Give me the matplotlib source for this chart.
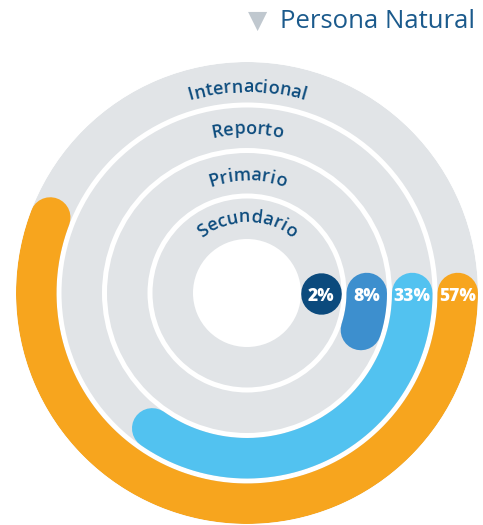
import numpy as np
import matplotlib.pyplot as plt

# Data
categories = ["Secundario", "Primario", "Reporto", "Internacional"]
shares = [2, 8, 33, 57]
labels = ["2%", "8%", "33%", "57%"]
# sweep of each drawn bar in degrees
sweep_deg = [1, 18, 125, 201]
bar_colors = ["#0b4a7d", "#3d8fce", "#52c2f0", "#f7a51e"]

title = "Persona Natural"

# Layout (pixels)
W, H = 483, 525
cx, cy = 247, 293
r_out = 231
r_in = 54
ring_w = 40.5
ring_step = 45.5
label_base = [71, 112.5, 159, 201]
gray = "#e1e4e7"
navy = "#0d4c7e"
lw_pt = ring_w * 72 / 100

fig = plt.figure(figsize=(W / 100, H / 100), dpi=100)
ax = fig.add_axes([(cx - r_out) / W, (H - cy - r_out) / H, 2 * r_out / W, 2 * r_out / H],
                  projection="polar")
ax.set_theta_zero_location("E")
ax.set_theta_direction(-1)
ax.set_rlim(0, r_out)
ax.axis("off")

renderer = fig.canvas.get_renderer()


def curved_text(text, r_base, size):
    # measure each character, then lay them out along the arc
    widths = []
    for ch in text:
        t = ax.text(0, 0, ch, fontsize=size, family="Open Sans", weight="semibold")
        widths.append(t.get_window_extent(renderer).width)
        t.remove()
    total = sum(widths)
    s = 0
    for ch, w in zip(text, widths):
        th = -np.pi / 2 + (s + w / 2 - total / 2) / r_base
        rot = -np.degrees(th) - 90
        ax.text(th, r_base, ch, fontsize=size, family="Open Sans", weight="semibold",
                color=navy, ha="center", va="baseline", rotation=rot,
                rotation_mode="anchor")
        s += w


for i, (cat, lab, sw, col) in enumerate(zip(categories, labels, sweep_deg, bar_colors)):
    inner = r_in + i * ring_step
    mid = inner + ring_w / 2
    ax.bar(0, ring_w, width=2 * np.pi, bottom=inner, color=gray, linewidth=0)
    theta = np.linspace(0, np.radians(sw), 300)
    ax.plot(theta, np.full_like(theta, mid), color=col, lw=lw_pt,
            solid_capstyle="round")
    ax.text(4 / mid, mid, lab, color="white", fontsize=12.5, family="Open Sans",
            weight="heavy", ha="center", va="center")
    curved_text(cat, label_base[i], 13)

# Title
fig.text(258 / W, 1 - 21 / H, "\u25bc", color="#c0c8cf", fontsize=18,
         ha="center", va="center", family="DejaVu Sans")
fig.text(280 / W, 1 - 21 / H, title, color="#1b5a8c", fontsize=18.5,
         family="Open Sans", ha="left", va="center")

fig.savefig("out.png", dpi=100)
